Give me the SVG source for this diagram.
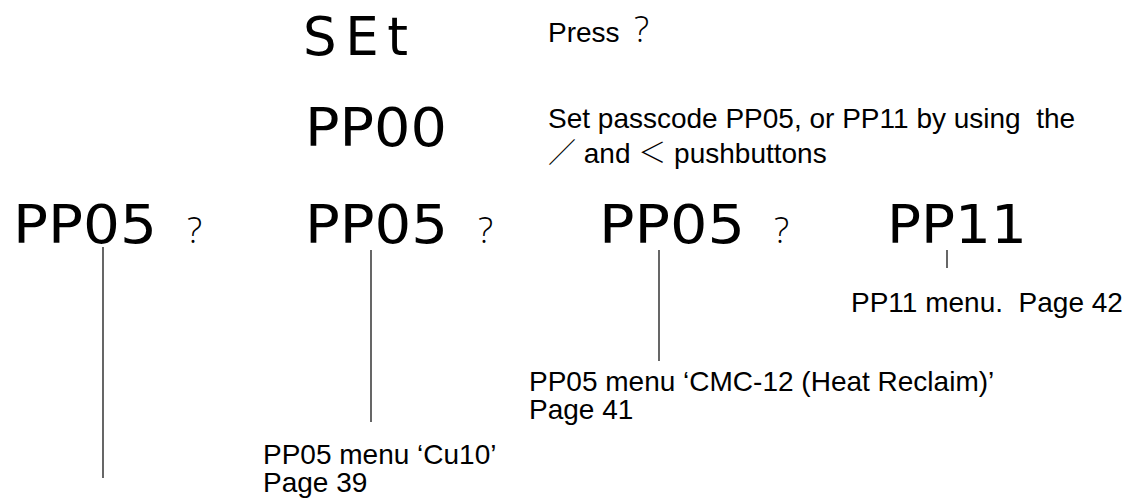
<svg xmlns="http://www.w3.org/2000/svg" width="1139" height="500" viewBox="0 0 1139 500">
<style>
.big{font-family:"DejaVu Sans",sans-serif;font-size:53px;fill:#000}
.q{font-family:"Open Sans","Liberation Sans",sans-serif;font-weight:300;font-size:36px;fill:#000}
.sm{font-family:"Liberation Sans",Arial,sans-serif;font-size:28px;fill:#000;white-space:pre}
.cjk{font-family:"Noto Sans CJK JP",sans-serif;font-weight:300}
.conn line{stroke:#000;stroke-width:1.2}
</style>
<rect width="1139" height="500" fill="#fff"/>
<g id="set">
<text class="big" x="303" y="55" textLength="105" lengthAdjust="spacing">SEt</text>
<text class="sm" x="548" y="42">Press</text>
<text class="q" x="634" y="42">?</text>
</g>
<g id="pp00">
<text class="big" x="305" y="146" textLength="142" lengthAdjust="spacingAndGlyphs">PP00</text>
<text class="sm" x="548" y="128">Set passcode PP05, or PP11 by using  the</text>
<text class="sm" x="548" y="163"><tspan class="cjk">／</tspan> and <tspan class="cjk">＜</tspan> pushbuttons</text>
</g>
<g id="pp05a">
<text class="big" x="13" y="243" textLength="144" lengthAdjust="spacingAndGlyphs">PP05</text>
<text class="q" x="187" y="243">?</text>
</g>
<g id="pp05b">
<text class="big" x="305" y="243" textLength="143" lengthAdjust="spacingAndGlyphs">PP05</text>
<text class="q" x="478" y="243">?</text>
<text class="sm" x="263" y="464">PP05 menu ‘Cu10’</text>
<text class="sm" x="263" y="492">Page 39</text>
</g>
<g id="pp05c">
<text class="big" x="599" y="243" textLength="146" lengthAdjust="spacingAndGlyphs">PP05</text>
<text class="q" x="774" y="243">?</text>
<text class="sm" x="529" y="391">PP05 menu ‘CMC-12 (Heat Reclaim)’</text>
<text class="sm" x="529" y="419">Page 41</text>
</g>
<g id="pp11">
<text class="big" x="887" y="243" textLength="140" lengthAdjust="spacingAndGlyphs">PP11</text>
<text class="sm" x="851" y="312">PP11 menu.  Page 42</text>
</g>
<g id="connectors" class="conn">
<line x1="103" y1="247" x2="103" y2="478"/>
<line x1="371" y1="250" x2="371" y2="422"/>
<line x1="659" y1="250" x2="659" y2="361"/>
<line x1="947" y1="250" x2="947" y2="268"/>
</g>
</svg>
